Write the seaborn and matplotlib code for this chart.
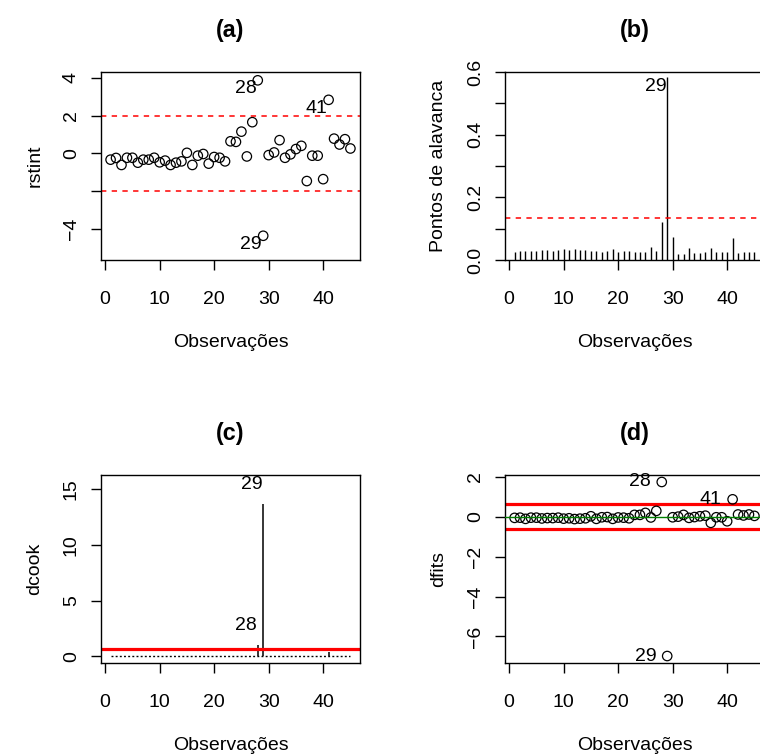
import numpy as np
import pandas as pd
import matplotlib
matplotlib.use("Agg")
import matplotlib.pyplot as plt
import seaborn as sns
from matplotlib.ticker import FixedLocator, FixedFormatter

# ---------------- data ----------------
obs = list(range(1, 46))
rstint = [-0.33, -0.24, -0.61, -0.23, -0.23, -0.49, -0.33, -0.33, -0.23, -0.47,
          -0.38, -0.61, -0.49, -0.42, 0.03, -0.61, -0.12, -0.03, -0.54, -0.19,
          -0.23, -0.42, 0.64, 0.61, 1.15, -0.16, 1.65, 3.86, -4.35, -0.09,
          0.05, 0.70, -0.23, -0.05, 0.23, 0.40, -1.46, -0.12, -0.12, -1.36,
          2.83, 0.78, 0.47, 0.75, 0.26]
leverage = [0.025, 0.029, 0.028, 0.028, 0.030, 0.031, 0.033, 0.029, 0.032, 0.034,
            0.031, 0.034, 0.033, 0.031, 0.029, 0.029, 0.026, 0.029, 0.034, 0.026,
            0.029, 0.029, 0.026, 0.027, 0.026, 0.040, 0.028, 0.121, 0.584, 0.072,
            0.020, 0.020, 0.038, 0.021, 0.021, 0.024, 0.038, 0.027, 0.027, 0.024,
            0.070, 0.022, 0.024, 0.025, 0.027]
dcook = [0.001, 0.001, 0.003, 0.001, 0.001, 0.002, 0.001, 0.001, 0.001, 0.002,
         0.001, 0.004, 0.002, 0.002, 0.000, 0.003, 0.000, 0.000, 0.003, 0.000,
         0.001, 0.002, 0.004, 0.003, 0.012, 0.001, 0.030, 1.05, 13.7, 0.000,
         0.000, 0.003, 0.001, 0.000, 0.001, 0.001, 0.030, 0.000, 0.000, 0.015,
         0.36, 0.005, 0.002, 0.005, 0.001]
dfits = [-0.05, -0.04, -0.10, -0.04, -0.04, -0.08, -0.06, -0.06, -0.04, -0.09,
         -0.07, -0.11, -0.09, -0.07, 0.03, -0.10, -0.02, -0.01, -0.10, -0.03,
         -0.04, -0.07, 0.10, 0.10, 0.20, -0.03, 0.30, 1.75, -6.98, -0.02,
         0.01, 0.10, -0.05, -0.01, 0.03, 0.06, -0.30, -0.02, -0.02, -0.22,
         0.88, 0.12, 0.07, 0.12, 0.05]

rst_cut = 2.0
lev_cut = 0.133
cook_cut = 0.69
dfits_cut = 0.63

titles = ["(a)", "(b)", "(c)", "(d)"]
ylabels = ["rstint", "Pontos de alavanca", "dcook", "dfits"]
xlabel = "Observações"
xticks = [0, 10, 20, 30, 40]
xtick_labels = ["0", "10", "20", "30", "40"]

a_yticks = [-4, -2, 0, 2, 4]
a_ylabels = ["\u22124", "", "0", "2", "4"]
b_yticks = [0.0, 0.1, 0.2, 0.3, 0.4, 0.5, 0.6]
b_ylabels = ["0.0", "", "0.2", "", "0.4", "", "0.6"]
c_yticks = [0, 5, 10, 15]
c_ylabels = ["0", "5", "10", "15"]
d_yticks = [-6, -4, -2, 0, 2]
d_ylabels = ["\u22126", "\u22124", "\u22122", "0", "2"]

df = pd.DataFrame({"obs": obs, "rstint": rstint, "leverage": leverage,
                   "dcook": dcook, "dfits": dfits})

# ---------------- style ----------------
sns.set_style("ticks")
plt.rcParams["font.family"] = ["Liberation Sans", "DejaVu Sans"]
plt.rcParams["text.color"] = "black"
plt.rcParams["axes.labelcolor"] = "black"
plt.rcParams["xtick.color"] = "black"
plt.rcParams["ytick.color"] = "black"
plt.rcParams["axes.edgecolor"] = "black"
FS = 14
plt.rcParams["axes.unicode_minus"] = True

fig = plt.figure(figsize=(7.6, 7.56), dpi=100)
W, H = 760.0, 756.0


def add_ax(l, t, r, b):
    return fig.add_axes([l / W, 1 - b / H, (r - l) / W, (b - t) / H])


axa = add_ax(101, 72, 360, 260)
axb = add_ax(505, 72, 764, 260)
axc = add_ax(101, 475, 360, 663)
axd = add_ax(505, 475, 764, 663)


def style(ax, title, ylab, yticks, ylabs, ylim):
    ax.set_xlim(-0.76, 46.76)
    ax.set_ylim(*ylim)
    for s in ax.spines.values():
        s.set_visible(True)
        s.set_linewidth(1.0)
        s.set_color("black")
    ax.xaxis.set_major_locator(FixedLocator(xticks))
    ax.xaxis.set_major_formatter(FixedFormatter(xtick_labels))
    ax.yaxis.set_major_locator(FixedLocator(yticks))
    ax.yaxis.set_major_formatter(FixedFormatter(ylabs))
    ax.tick_params(direction="out", length=7.2, width=1.0, color="black",
                   labelsize=FS, labelcolor="black")
    ax.tick_params(axis="x", pad=15)
    ax.tick_params(axis="y", pad=8, labelrotation=90)
    for lab in ax.get_yticklabels():
        lab.set_va("center")
    ax.set_xlabel(xlabel, fontsize=FS, va="center", color="black")
    ax.xaxis.set_label_coords(0.5, -0.44)
    ax.set_ylabel(ylab, fontsize=FS, va="center", color="black")
    ax.yaxis.set_label_coords(-0.255, 0.5)
    ax.text(0.5, 1.222, title, transform=ax.transAxes, ha="center",
            va="center", fontsize=16.8, fontweight="bold", color="black")
    ax.grid(False)


def label(ax, x, y, txt, dx, dy, ha="right"):
    ax.annotate(txt, xy=(x, y), xytext=(dx, dy), textcoords="offset pixels",
                ha=ha, va="center", fontsize=FS, color="black",
                annotation_clip=False)


# (a) studentized residuals
sns.scatterplot(data=df, x="obs", y="rstint", ax=axa, marker="o", s=46,
                facecolors="none", edgecolors="black", linewidths=0.9)
axa.axhline(rst_cut, color="red", lw=1.1, dashes=(3.5, 3.5))
axa.axhline(-rst_cut, color="red", lw=1.1, dashes=(3.5, 3.5))
style(axa, titles[0], ylabels[0], a_yticks, a_ylabels, (-5.63, 4.30))
for i in [28, 29, 41]:
    label(axa, obs[i - 1], rstint[i - 1], str(i), -1.5, -8.3)

# (b) leverage
axb.vlines(df["obs"], 0, df["leverage"], color="black", lw=1.0)
axb.axhline(lev_cut, color="red", lw=1.1, dashes=(3.5, 3.5))
style(axb, titles[1], ylabels[1], b_yticks, b_ylabels, (0, 0.6))
label(axb, obs[28], leverage[28], "29", -1.0, -9.0)

# (c) Cook's distance
axc.vlines(df["obs"], 0, df["dcook"], color="black", lw=1.1)
axc.plot([obs[0], obs[-1]], [0, 0], color="black", lw=1.0, dashes=(1.4, 1.6))
axc.axhline(cook_cut, color="red", lw=2.3)
style(axc, titles[2], ylabels[2], c_yticks, c_ylabels, (-0.59, 16.27))
for i in [28, 29]:
    label(axc, obs[i - 1], dcook[i - 1], str(i), -1.0, 19.5)

# (d) DFFITS
sns.scatterplot(data=df, x="obs", y="dfits", ax=axd, marker="o", s=46,
                facecolors="none", edgecolors="black", linewidths=0.9,
                zorder=3)
axd.axhline(0, color="green", lw=1.0, zorder=4)
axd.axhline(dfits_cut, color="red", lw=2.3)
axd.axhline(-dfits_cut, color="red", lw=2.3)
style(axd, titles[3], ylabels[3], d_yticks, d_ylabels, (-7.33, 2.1))
for i in [28, 29, 41]:
    label(axd, obs[i - 1], dfits[i - 1], str(i), -11, 0)

fig.savefig("out.png", dpi=100, facecolor="white")
